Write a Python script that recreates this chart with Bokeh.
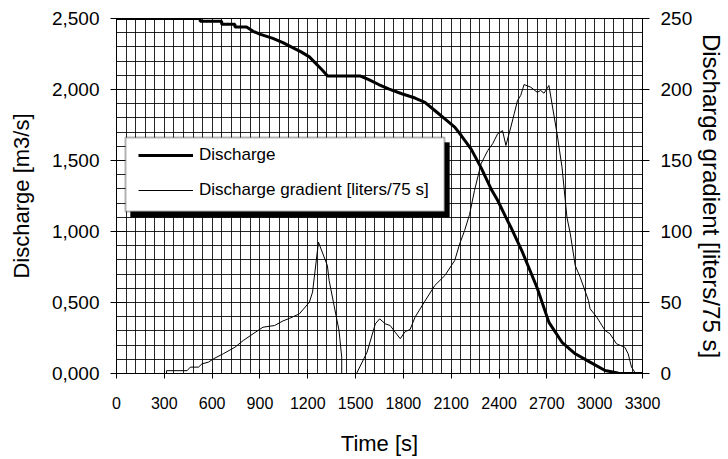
from bokeh.plotting import figure
from bokeh.models import (Range1d, LinearAxis, FixedTicker, SingleIntervalTicker,
                          Legend, LegendItem, BoxAnnotation)
from bokeh.embed import file_html
from bokeh.resources import INLINE

# ---- data ----
discharge_t = [0, 525, 525, 660, 660, 743, 743, 816, 857, 899, 981, 1044, 1096, 1158,
               1210, 1292, 1324, 1531, 1583, 1645, 1707, 1790, 1873, 1935, 1997, 2060,
               2122, 2163, 2225, 2287, 2350, 2391, 2443, 2474, 2547, 2640, 2713, 2795,
               2878, 2971, 3065, 3137, 3150, 3300]
discharge_q = [2.5, 2.5, 2.48, 2.48, 2.46, 2.46, 2.44, 2.44, 2.41, 2.39, 2.36, 2.33, 2.30, 2.265,
               2.23, 2.135, 2.095, 2.095, 2.07, 2.035, 2.005, 1.97, 1.94, 1.91, 1.852, 1.793,
               1.735, 1.676, 1.58, 1.45, 1.30, 1.22, 1.10, 1.03, 0.854, 0.60, 0.36, 0.22,
               0.139, 0.08, 0.021, 0.005, 0.0, 0.0]

gradient_t = [314, 314, 443, 463, 515, 536, 577, 608, 670, 743, 795, 857, 919, 992, 1044,
              1085, 1147, 1210, 1230, 1241, 1267, 1323, 1334, 1365, 1396, 1413, 1413, 1506,
              1572, 1624, 1651, 1686, 1717, 1749, 1780, 1811, 1842, 1873, 1935, 1997, 2060,
              2122, 2153, 2184, 2215, 2246, 2287, 2308, 2329, 2360, 2391, 2422, 2443, 2474,
              2495, 2516, 2536, 2557, 2599, 2640, 2661, 2682, 2713, 2764, 2795, 2826, 2847,
              2878, 2909, 2961, 2971, 3013, 3065, 3096, 3137, 3189, 3210, 3231, 3251, 3260]
gradient_g = [0, 2, 2, 4.5, 4.5, 6.8, 8, 10.3, 13.9, 18.5, 23.2, 28, 32.6, 33.8, 37,
              38.8, 42, 50.2, 57.3, 67.8, 92.5, 76, 65.5, 47.9, 30.3, 11.5, 0, 0,
              15, 35, 38.5, 35, 33.8, 29, 24.5, 29.5, 31, 39.7, 51, 62, 69,
              79.6, 91.3, 100.7, 112, 128.9, 147.7, 152.3, 157, 161.8, 168.8, 171, 160.6, 173.5,
              182.9, 192.3, 195.8, 203.5, 201.6, 198, 199.3, 197.4, 202.8, 168.8, 145.3, 110, 98.4,
              76, 67.8, 51.4, 45.6, 39.7, 30.3, 28, 20.9, 18.5, 13.9, 4.5, 1, 0]

time_ticks = [0, 300, 600, 900, 1200, 1500, 1800, 2100, 2400, 2700, 3000, 3300]
discharge_ticks = [0, 0.5, 1.0, 1.5, 2.0, 2.5]
discharge_tick_labels = ["0,000", "0,500", "1,000", "1,500", "2,000", "2,500"]
gradient_ticks = [0, 50, 100, 150, 200, 250]

FONT = "Liberation Sans"

p = figure(width=728, height=459,
           x_range=Range1d(0, 3300), y_range=Range1d(0, 2.5),
           output_backend="svg", toolbar_location=None,
           min_border_left=116, min_border_right=82, min_border_top=18, min_border_bottom=86,
           background_fill_color="white", border_fill_color="white")
p.extra_y_ranges = {"grad": Range1d(0, 250)}
p.outline_line_color = "black"
p.outline_line_width = 1

# grid
p.xgrid.ticker = SingleIntervalTicker(interval=60)
p.ygrid.ticker = SingleIntervalTicker(interval=0.1)
for g in (p.xgrid, p.ygrid):
    g.grid_line_color = "black"
    g.grid_line_alpha = 0.85
    g.grid_line_width = 1

# x axis
xa = p.xaxis[0]
xa.ticker = FixedTicker(ticks=time_ticks)
xa.axis_label = "Time [s]"
xa.major_tick_in = 4
xa.major_tick_out = 5
xa.minor_tick_line_color = None
xa.major_label_standoff = 18
xa.axis_label_standoff = 19

# left axis
ya = p.yaxis[0]
ya.ticker = FixedTicker(ticks=discharge_ticks)
ya.major_label_overrides = dict(zip(discharge_ticks, discharge_tick_labels))
ya.axis_label = "Discharge [m3/s]"
ya.major_tick_in = 9
ya.major_tick_out = 6
ya.minor_tick_line_color = None
ya.major_label_standoff = 11
ya.axis_label_standoff = 15

# right axis
ra = LinearAxis(y_range_name="grad", ticker=FixedTicker(ticks=gradient_ticks),
                axis_label="Discharge gradient [liters/75 s]")
ra.major_tick_in = 2
ra.major_tick_out = 7
ra.minor_tick_line_color = None
ra.major_label_standoff = 11
ra.axis_label_standoff = 3
p.add_layout(ra, "right")

for ax, fs, ts in ((xa, "16px", "22px"), (ya, "19px", "22px"), (ra, "19px", "24px")):
    ax.axis_line_color = "black"
    ax.major_tick_line_color = "black"
    ax.major_label_text_font = FONT
    ax.major_label_text_font_size = fs
    ax.major_label_text_color = "black"
    ax.axis_label_text_font = FONT
    ax.axis_label_text_font_size = ts
    ax.axis_label_text_font_style = "normal"
    ax.axis_label_text_color = "black"

r_grad = p.line(gradient_t, gradient_g, y_range_name="grad", line_color="black", line_width=1)
r_dis = p.line(discharge_t, discharge_q, line_color="black", line_width=3)

# legend frame and shadow (screen px from the frame's bottom-left corner)
BOX_L, BOX_R, BOX_B, BOX_T = 9, 328, 162, 236
SHADOW = 5


def screen_box(l, r, b, t, fill, lw):
    return BoxAnnotation(left=l, right=r, bottom=b, top=t,
                         left_units="screen", right_units="screen",
                         bottom_units="screen", top_units="screen",
                         fill_color=fill, fill_alpha=1, line_color="black", line_width=lw)


p.add_layout(screen_box(BOX_L + SHADOW, BOX_R + SHADOW, BOX_B - SHADOW - 1, BOX_T - SHADOW,
                        "black", 1))
p.add_layout(screen_box(BOX_L, BOX_R, BOX_B, BOX_T, "white", 2))

legend = Legend(items=[LegendItem(label="Discharge", renderers=[r_dis]),
                       LegendItem(label="Discharge gradient [liters/75 s]", renderers=[r_grad])],
                location=(22, 173), orientation="vertical",
                background_fill_alpha=0, border_line_color=None,
                label_text_font=FONT, label_text_font_size="17px", label_text_color="black",
                glyph_width=55, glyph_height=20, label_height=20,
                label_standoff=6, spacing=15, padding=0, margin=0)
p.add_layout(legend, "center")

open("out.html", "w").write(file_html(p, INLINE))
